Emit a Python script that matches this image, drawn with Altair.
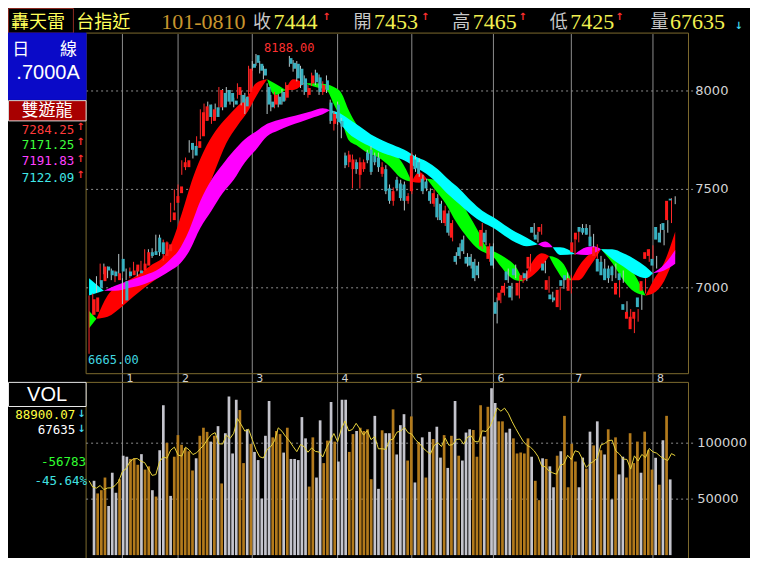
import altair as alt
import pandas as pd

W, H = 742, 550
SX, SY = W / 760.0, H / 570.0


def X(v):
    return v * SX


def Y(v):
    return v * SY


# ---------------- data ----------------
open_ = [6863, 6878, 7039, 7034, 7108, 7088, 7083, 7039, 7147, 7034,
         7083, 7064, 7083, 7088, 7088, 7113, 7181, 7186, 7255, 7231,
         7162, 7186, 7344, 7432, 7481, 7613, 7613, 7736, 7721, 7711,
         7770, 7848, 7931, 7848, 7917, 7917, 7990, 8005, 7990, 7951,
         7980, 7980, 7971, 7995, 8138, 8182, 8138, 8113, 8020, 7946,
         7931, 7971, 7995, 7966, 8167, 8143, 8138, 8113, 8064, 7980,
         8039, 8093, 8069, 7995, 8054, 7941, 7833, 7931, 7848, 7672,
         7638, 7603, 7638, 7574, 7603, 7687, 7701, 7672, 7662, 7579,
         7603, 7505, 7442, 7549, 7530, 7525, 7442, 7491, 7652, 7638,
         7554, 7540, 7491, 7427, 7456, 7427, 7329, 7378, 7255, 7162,
         7206, 7245, 7157, 7157, 7132, 7113, 7211, 7280, 7147, 7211,
         6927, 6936, 6975, 7083, 7010, 7098, 6961, 7039, 7074, 7098,
         7309, 7270, 7285, 7123, 6990, 6966, 6951, 6902, 7039, 7064,
         6985, 7181, 7245, 7309, 7304, 7304, 7260, 7162, 7147, 7132,
         7098, 7098, 7108, 6966, 7074, 6917, 6843, 6790, 6843, 6951,
         6985, 7147, 7162, 7147, 7309, 7280, 7329, 7344, 7453]
high = [6961, 6971, 7059, 7123, 7123, 7108, 7098, 7088, 7172, 7049,
        7098, 7103, 7132, 7103, 7137, 7196, 7196, 7201, 7270, 7270,
        7245, 7236, 7432, 7500, 7525, 7648, 7662, 7750, 7736, 7770,
        7907, 7936, 7946, 7931, 7936, 8020, 8010, 8020, 8005, 7966,
        8039, 8000, 7990, 8128, 8152, 8188, 8152, 8128, 8039, 7980,
        7995, 7985, 8010, 8044, 8178, 8157, 8152, 8128, 8079, 8030,
        8093, 8108, 8084, 8049, 8079, 7956, 7897, 7946, 7863, 7687,
        7696, 7677, 7652, 7662, 7652, 7701, 7721, 7687, 7687, 7638,
        7623, 7525, 7510, 7564, 7549, 7540, 7481, 7687, 7677, 7657,
        7574, 7554, 7505, 7500, 7476, 7442, 7417, 7393, 7344, 7181,
        7226, 7265, 7176, 7172, 7147, 7132, 7329, 7294, 7226, 7226,
        6951, 6990, 7025, 7098, 7025, 7118, 7039, 7078, 7088, 7172,
        7329, 7285, 7324, 7137, 7059, 6980, 6966, 7005, 7054, 7078,
        7064, 7245, 7304, 7324, 7324, 7319, 7274, 7221, 7162, 7147,
        7113, 7113, 7123, 7039, 7088, 6932, 6892, 6868, 6892, 6966,
        7049, 7196, 7216, 7162, 7324, 7294, 7344, 7456, 7465]
low = [6665, 6863, 6975, 7020, 7069, 7049, 7039, 7029, 7069, 6917,
       7039, 7049, 7069, 7059, 7074, 7103, 7147, 7152, 7167, 7162,
       7137, 7172, 7334, 7393, 7442, 7574, 7598, 7687, 7657, 7696,
       7755, 7833, 7853, 7833, 7853, 7902, 7902, 7931, 7931, 7917,
       7961, 7927, 7883, 7980, 8103, 8128, 8089, 8059, 7883, 7897,
       7912, 7917, 7931, 7951, 8123, 8098, 8049, 8015, 7980, 7966,
       8025, 8030, 7980, 7980, 7990, 7833, 7799, 7828, 7760, 7608,
       7613, 7505, 7579, 7505, 7589, 7633, 7574, 7623, 7589, 7564,
       7476, 7427, 7417, 7491, 7442, 7393, 7427, 7476, 7589, 7564,
       7476, 7491, 7427, 7412, 7344, 7329, 7314, 7265, 7236, 7118,
       7147, 7172, 7108, 7098, 7034, 7049, 7196, 7216, 7132, 7098,
       6819, 6922, 6961, 7025, 6936, 7049, 6946, 7025, 7034, 7083,
       7260, 7231, 7270, 7074, 6975, 6927, 6922, 6887, 6995, 7025,
       6971, 7167, 7231, 7270, 7270, 7255, 7196, 7147, 7069, 7049,
       7025, 7034, 7049, 6951, 7025, 6873, 6828, 6770, 6828, 6888,
       6971, 7132, 7147, 7098, 7231, 7216, 7280, 7329, 7425]
close = [6942, 6951, 7000, 7108, 7088, 7064, 7059, 7074, 7083, 6936,
         7059, 7088, 7118, 7074, 7123, 7181, 7162, 7167, 7181, 7172,
         7231, 7221, 7383, 7466, 7515, 7638, 7648, 7701, 7672, 7745,
         7892, 7922, 7868, 7907, 7868, 8005, 7917, 7946, 7946, 7931,
         8020, 7941, 7922, 8113, 8118, 8143, 8103, 8079, 7931, 7917,
         7980, 7931, 7946, 8030, 8138, 8113, 8064, 8030, 7995, 8015,
         8079, 8044, 7995, 8030, 8005, 7848, 7883, 7843, 7819, 7623,
         7677, 7652, 7603, 7638, 7638, 7648, 7589, 7638, 7613, 7613,
         7491, 7442, 7491, 7505, 7456, 7442, 7466, 7672, 7603, 7579,
         7491, 7505, 7442, 7481, 7358, 7344, 7393, 7280, 7329, 7132,
         7162, 7186, 7123, 7113, 7049, 7064, 7294, 7231, 7211, 7113,
         6868, 6975, 7010, 7039, 6951, 7064, 7025, 7064, 7049, 7157,
         7280, 7245, 7309, 7088, 7039, 6942, 6936, 6990, 7010, 7039,
         7049, 7231, 7280, 7285, 7280, 7270, 7211, 7206, 7083, 7064,
         7039, 7049, 7064, 7025, 7039, 6888, 6878, 6853, 6878, 6902,
         7034, 7181, 7196, 7113, 7245, 7231, 7294, 7442, 7444]
volume = [66400, 55100, 58000, 69300, 43900, 73600, 55700, 67800, 88800, 87900,
          85900, 86500, 80700, 90200, 76400, 79300, 58000, 52300, 93700, 133900,
          100300, 52900, 87900, 107200, 98600, 95700, 92800, 75600, 86500, 106600,
          113800, 110100, 101400, 106600, 115200, 64000, 108900, 141700, 90800, 138800,
          129600, 82200, 112400, 99400, 92200, 84900, 50500, 106600, 137700, 105200,
          110900, 108100, 91600, 113800, 85900, 85900, 84900, 123300, 104300, 61200,
          105200, 69300, 120400, 82200, 102300, 136800, 101400, 83600, 138800, 138800,
          92200, 108100, 110900, 113800, 110900, 112400, 67800, 124400, 59200, 111500,
          108900, 108900, 130200, 89900, 116100, 125900, 84500, 123900, 64900, 100900,
          105200, 69300, 110100, 103700, 114700, 87100, 107200, 77900, 106600, 137700,
          88800, 84500, 109500, 112400, 111800, 87900, 133900, 106000, 132500, 149100,
          135900, 119500, 119500, 109500, 112900, 104300, 90800, 91600, 90800, 104300,
          87900, 66400, 49100, 86500, 85900, 79300, 60600, 88800, 92800, 124400,
          60600, 99400, 83600, 60600, 87100, 77300, 110300, 98000, 119500, 93700,
          89900, 112400, 49700, 105200, 72100, 87900, 69300, 108900, 82200, 101400,
          73600, 110300, 93700, 76400, 86947, 62900, 102600, 124418, 67635]
vol_dir = list("duuudddudd" "uuuduududd" "uduuuuuudu" "uudududddd" "uududddddu"
               "uududddddu" "udduududdd" "uuduuuuddu" "dduddduudu" "dududdudud"
               "uddduuudud" "duudduuuuu" "duududdudu" "uuuddududu" "dududduuuu"
               "duuududud")

fast_day = [0, 2, 5, 9, 13, 17, 20, 22, 25, 28, 31, 34, 37, 40, 43, 45, 48, 50, 53, 55,
            58, 61, 64, 66, 68, 70, 72, 75, 78, 81, 84, 87, 89, 91, 93, 96, 99, 102, 105, 107,
            109, 111, 113, 115, 117, 120, 122, 124, 126, 128, 130, 132, 135, 138, 141, 144,
            147, 150, 152, 155, 158]
fast_red = [6794, 6843, 6961, 7020, 7064, 7118, 7157, 7216, 7377, 7559,
            7696, 7794, 7863, 7922, 7980, 8039, 8059, 7980, 8005, 8059,
            8039, 8020, 8005, 7931, 7853, 7750, 7725, 7686, 7662, 7618,
            7559, 7539, 7588, 7554, 7505, 7431, 7333, 7255, 7196, 7176,
            7157, 7108, 7064, 7039, 7034, 7147, 7176, 7162, 7093, 7044,
            7039, 7108, 7172, 7196, 7127, 7039, 6980, 6961, 7034, 7127,
            7284.25]
fast_green = [6882, 6843, 6853, 6907, 6971, 7029, 7069, 7098, 7152, 7255,
              7441, 7598, 7735, 7824, 7902, 7971, 8059, 8039, 8005, 8005,
              8039, 8039, 8034, 8020, 7990, 7902, 7833, 7755, 7716, 7686,
              7647, 7539, 7534, 7554, 7549, 7520, 7471, 7382, 7284, 7211,
              7186, 7167, 7142, 7108, 7034, 7069, 7108, 7162, 7152, 7118,
              7039, 7039, 7108, 7196, 7186, 7137, 7069, 6961, 6971, 7034,
              7171.25]

slow_day = [0, 4, 7, 11, 15, 19, 22, 24, 27, 30, 33, 36, 39, 42, 45, 48, 51, 54, 57, 60,
            63, 65, 67, 70, 73, 76, 79, 82, 85, 88, 91, 94, 97, 100, 103, 106, 109, 112,
            115, 118, 121, 123, 125, 127, 131, 134, 136, 138, 141, 144, 147, 150, 152,
            155, 158]
slow_mag = [6961, 6985, 7010, 7039, 7064, 7098, 7147, 7186, 7294, 7441,
            7549, 7627, 7696, 7755, 7794, 7833, 7853, 7868, 7882, 7897,
            7912, 7902, 7853, 7784, 7745, 7716, 7686, 7667, 7647, 7613,
            7578, 7529, 7471, 7422, 7373, 7333, 7304, 7265, 7230, 7211,
            7221, 7235, 7206, 7167, 7172, 7206, 7211, 7196, 7147, 7108,
            7069, 7049, 7074, 7118, 7191.83]
slow_cyan = [7049, 6985, 6985, 7000, 7020, 7054, 7088, 7113, 7186, 7304,
             7392, 7480, 7549, 7637, 7701, 7770, 7799, 7824, 7843, 7863,
             7882, 7902, 7892, 7858, 7819, 7779, 7750, 7725, 7701, 7667,
             7642, 7603, 7549, 7500, 7441, 7392, 7358, 7319, 7284, 7255,
             7221, 7206, 7206, 7206, 7172, 7167, 7176, 7196, 7196, 7176,
             7147, 7108, 7074, 7088, 7122.09]

month_days = [9, 24, 44, 67, 87, 109, 130, 152]
month_labels = ["1", "2", "3", "4", "5", "6", "7", "8"]
price_ticks = [7000, 7500, 8000]
vol_ticks = [50000, 100000]
high_mark = (45, 8188, "8188.00")
low_mark = (0, 6665, "6665.00")

assert len(open_) == len(high) == len(low) == len(close) == len(volume) == len(vol_dir) == 159

# ---------------- tables ----------------
days = list(range(len(close)))
candles = pd.DataFrame({"day": days, "open": open_, "high": high, "low": low, "close": close})
candles["dir"] = ["up" if c >= o else "down" for o, c in zip(open_, close)]
vol_df = pd.DataFrame({"day": days, "vol": volume,
                       "dir": ["up" if d == "u" else "down" for d in vol_dir]})


def ribbon_rows(dd, a, b, name):
    segs = [[]]
    for d, u, l in zip(dd, a, b):
        segs[-1].append((d, u, l))
        if u == l and len(segs[-1]) > 1:
            segs.append([(d, u, l)])
    rows = []
    for k, seg in enumerate(segs):
        if len(seg) < 2:
            continue
        state = "up" if sum(u - l for _, u, l in seg) > 0 else "down"
        for d, u, l in seg:
            rows.append({"day": d, "hi": u, "lo": l, "seg": f"{name}{k}",
                         "state": f"{name}_{state}"})
    return pd.DataFrame(rows)


fast_df = ribbon_rows(fast_day, fast_red, fast_green, "fast")
slow_df = ribbon_rows(slow_day, slow_mag, slow_cyan, "slow")

# ---------------- scales ----------------
xs = alt.Scale(domain=[0, 158], range=[X(83), X(683.4)], nice=False, zero=False)
ps = alt.Scale(domain=[7000, 8000], range=[Y(290), Y(86)], nice=False, zero=False)
vs = alt.Scale(domain=[0, 100000], range=[Y(567), Y(451)], nice=False, zero=False)
rib_scale = alt.Scale(domain=["fast_up", "fast_down", "slow_up", "slow_down"],
                      range=["#ff0000", "#00ff00", "#ff00ff", "#00ffff"])

# ---------------- layout pieces ----------------
frames = pd.DataFrame([
    {"x": X(80), "x2": X(697), "y": Y(26), "y2": Y(379)},
    {"x": X(80), "x2": X(697), "y": Y(388), "y2": Y(575)},
])
frame_layer = alt.Chart(frames).mark_rect(fillOpacity=0, stroke="#7d6a2e", strokeWidth=1).encode(
    x=alt.X("x:Q", scale=None, axis=None), x2="x2:Q",
    y=alt.Y("y:Q", scale=None, axis=None), y2="y2:Q")

boxes = pd.DataFrame([
    {"x": X(0.5), "x2": X(67), "y": Y(0.5), "y2": Y(26), "fill": "#000000", "stroke": "#8c2a20"},
    {"x": X(0), "x2": X(80), "y": Y(26), "y2": Y(95), "fill": "#0a0ac8", "stroke": "#0a0ac8"},
    {"x": X(0.5), "x2": X(80), "y": Y(96), "y2": Y(117), "fill": "#a80000", "stroke": "#d8d8d8"},
    {"x": X(0.5), "x2": X(80), "y": Y(388), "y2": Y(413), "fill": "#000000", "stroke": "#e8e8e8"},
])
box_layer = alt.Chart(boxes).mark_rect(strokeWidth=1).encode(
    x=alt.X("x:Q", scale=None, axis=None), x2="x2:Q",
    y=alt.Y("y:Q", scale=None, axis=None), y2="y2:Q",
    fill=alt.Fill("fill:N", scale=None), stroke=alt.Stroke("stroke:N", scale=None))

month_df = pd.DataFrame({"day": month_days, "label": month_labels})
month_lines = alt.Chart(month_df).mark_rule(color="#8c8c8c", strokeWidth=1).encode(
    x=alt.X("day:Q", scale=xs, axis=None), y=alt.value(Y(27)), y2=alt.value(Y(572)))
month_text = alt.Chart(month_df).mark_text(align="left", baseline="middle", dx=4,
                                           font="DejaVu Sans", fontSize=11, color="#d0d0d0").encode(
    x=alt.X("day:Q", scale=xs, axis=None), y=alt.value(Y(385)), text="label:N")

pgrid_df = pd.DataFrame({"p": price_ticks, "t": [str(v) for v in price_ticks]})
price_grid = alt.Chart(pgrid_df).mark_rule(color="#8c8c8c", strokeDash=[2, 3], strokeWidth=1).encode(
    y=alt.Y("p:Q", scale=ps, axis=None), x=alt.value(X(80)), x2=alt.value(X(703)))
price_lbl = alt.Chart(pgrid_df).mark_text(align="left", baseline="middle", font="DejaVu Sans",
                                          fontSize=13, color="#d4d4d4").encode(
    y=alt.Y("p:Q", scale=ps, axis=None), x=alt.value(X(704)), text="t:N")

vgrid_df = pd.DataFrame({"v": vol_ticks, "t": [str(v) for v in vol_ticks]})
vol_grid = alt.Chart(vgrid_df).mark_rule(color="#8c8c8c", strokeDash=[2, 3], strokeWidth=1).encode(
    y=alt.Y("v:Q", scale=vs, axis=None), x=alt.value(X(80)), x2=alt.value(X(703)))
vol_lbl = alt.Chart(vgrid_df).mark_text(align="left", baseline="middle", font="DejaVu Sans",
                                        fontSize=13, color="#d4d4d4").encode(
    y=alt.Y("v:Q", scale=vs, axis=None), x=alt.value(X(706)), text="t:N")

# ---------------- data marks ----------------
vol_bars = alt.Chart(vol_df).mark_bar(size=2.7).encode(
    x=alt.X("day:Q", scale=xs, axis=None),
    y=alt.Y("vol:Q", scale=vs, axis=None),
    color=alt.Color("dir:N", scale=alt.Scale(domain=["up", "down"], range=["#b27a1c", "#c4c4cc"]),
                    legend=None))
vol_ma = alt.Chart(vol_df).transform_window(
    ma="mean(vol)", frame=[-4, 0], sort=[alt.SortField("day")]
).mark_line(color="#e6d23c", strokeWidth=1).encode(
    x=alt.X("day:Q", scale=xs, axis=None), y=alt.Y("ma:Q", scale=vs, axis=None))

fast_area = alt.Chart(fast_df).mark_area(interpolate="monotone").encode(
    x=alt.X("day:Q", scale=xs, axis=None),
    y=alt.Y("hi:Q", scale=ps, axis=None), y2="lo:Q",
    color=alt.Color("state:N", scale=rib_scale, legend=None), detail="seg:N")
slow_area = alt.Chart(slow_df).mark_area(interpolate="monotone").encode(
    x=alt.X("day:Q", scale=xs, axis=None),
    y=alt.Y("hi:Q", scale=ps, axis=None), y2="lo:Q",
    color=alt.Color("state:N", scale=rib_scale, legend=None), detail="seg:N")

wicks = alt.Chart(candles).mark_rule(strokeWidth=1).encode(
    x=alt.X("day:Q", scale=xs, axis=None),
    y=alt.Y("low:Q", scale=ps, axis=None), y2="high:Q",
    color=alt.Color("dir:N", scale=alt.Scale(domain=["up", "down"], range=["#ff2a2a", "#b8c6c8"]),
                    legend=None))
bodies = alt.Chart(candles).mark_bar(size=3).encode(
    x=alt.X("day:Q", scale=xs, axis=None),
    y=alt.Y("open:Q", scale=ps, axis=None), y2="close:Q",
    color=alt.Color("dir:N", scale=alt.Scale(domain=["up", "down"], range=["#ff1a1a", "#38b0c0"]),
                    legend=None))

hi_df = pd.DataFrame({"day": [high_mark[0]], "p": [high_mark[1]], "t": [high_mark[2]]})
hi_lbl = alt.Chart(hi_df).mark_text(align="left", baseline="middle", dx=8, dy=-6,
                                    font="DejaVu Sans Mono", fontSize=12, color="#ff3030").encode(
    x=alt.X("day:Q", scale=xs, axis=None), y=alt.Y("p:Q", scale=ps, axis=None), text="t:N")
lo_df = pd.DataFrame({"day": [low_mark[0]], "p": [low_mark[1]], "t": [low_mark[2]]})
lo_lbl = alt.Chart(lo_df).mark_text(align="left", baseline="middle", dx=-1, dy=6,
                                    font="DejaVu Sans Mono", fontSize=12, color="#40d8e0").encode(
    x=alt.X("day:Q", scale=xs, axis=None), y=alt.Y("p:Q", scale=ps, axis=None), text="t:N")


# ---------------- text helpers ----------------
def text_layer(rows, font, align, weight="normal"):
    df = pd.DataFrame(rows, columns=["t", "x", "y", "color", "size"])
    df["x"] = df["x"] * SX
    df["y"] = df["y"] * SY
    return alt.Chart(df).mark_text(font=font, align=align, baseline="middle",
                                   fontWeight=weight).encode(
        x=alt.X("x:Q", scale=None, axis=None), y=alt.Y("y:Q", scale=None, axis=None),
        text="t:N", color=alt.Color("color:N", scale=None),
        size=alt.Size("size:Q", scale=None))


YEL = "#ffff5a"
GRY = "#c8c8c8"
NUM = "#f2f050"
cjk_left = text_layer([
    ("轟天雷", 3, 16, YEL, 18), ("台指近", 70, 16, YEL, 18),
    ("收", 251, 16, GRY, 18), ("開", 354, 16, GRY, 18), ("高", 455, 16, GRY, 18),
    ("低", 555, 16, GRY, 18), ("量", 658, 16, GRY, 18),
], "Noto Sans CJK TC", "left")
cjk_center = text_layer([
    ("日", 13, 44, "#ffffff", 17), ("線", 62, 44, "#ffffff", 17),
    ("雙遊龍", 40, 107, "#ffffff", 17),
], "Noto Sans CJK TC", "center")
serif_nums = text_layer([
    ("101-0810", 157, 15, "#c8962e", 22), ("7444", 272, 15, NUM, 22),
    ("7453", 375, 15, NUM, 22), ("7465", 476, 15, NUM, 22),
    ("7425", 576, 15, NUM, 22), ("67635", 678, 15, NUM, 22),
], "Liberation Serif", "left")
arrows = text_layer([
    ("↑", 322, 9, "#ff3030", 10), ("↑", 423, 9, "#ff3030", 10), ("↑", 523, 9, "#ff3030", 10),
    ("↑", 622, 9, "#ff3030", 10), ("↓", 744, 19, "#40d8f0", 10),
    ("↑", 70, 123, "#ff3030", 10), ("↑", 70, 139, "#ff3030", 10),
    ("↑", 70, 156, "#ff3030", 10), ("↑", 70, 173, "#ff3030", 10),
    ("↓", 71, 421, "#40d8f0", 10), ("↓", 71, 436, "#40d8f0", 10),
], "DejaVu Sans", "left", "bold")
sans_center = text_layer([
    (".7000A", 41, 67, "#ffffff", 20), ("VOL", 40, 401, "#ffffff", 20),
], "Liberation Sans", "center")
mono_right = text_layer([
    ("7284.25", 68, 126, "#ff3a3a", 12.5), ("7171.25", 68, 142, "#3cff3c", 12.5),
    ("7191.83", 68, 159, "#ff40ff", 12.5), ("7122.09", 68, 176, "#40e8e8", 12.5),
    ("88900.07", 69, 422, "#ffff40", 12.5), ("67635", 69, 437, "#ffffff", 12.5),
    ("-56783", 80, 470, "#30ff30", 12.5), ("-45.64%", 81, 490, "#40e0e0", 12.5),
], "DejaVu Sans Mono", "right")

chart = alt.layer(
    month_lines, frame_layer, price_grid, vol_grid,
    vol_bars, vol_ma,
    fast_area, slow_area,
    wicks, bodies,
    hi_lbl, lo_lbl, price_lbl, vol_lbl, month_text,
    box_layer, cjk_left, cjk_center, serif_nums, arrows, sans_center, mono_right,
).resolve_scale(
    x="independent", y="independent", color="independent",
    size="independent", fill="independent", stroke="independent",
).properties(
    width=W, height=H, background="#000000", padding=0,
    autosize=alt.AutoSizeParams(type="none"),
).configure_view(strokeWidth=0)

chart.save("out.html", embed_options={"renderer": "svg", "actions": False})
